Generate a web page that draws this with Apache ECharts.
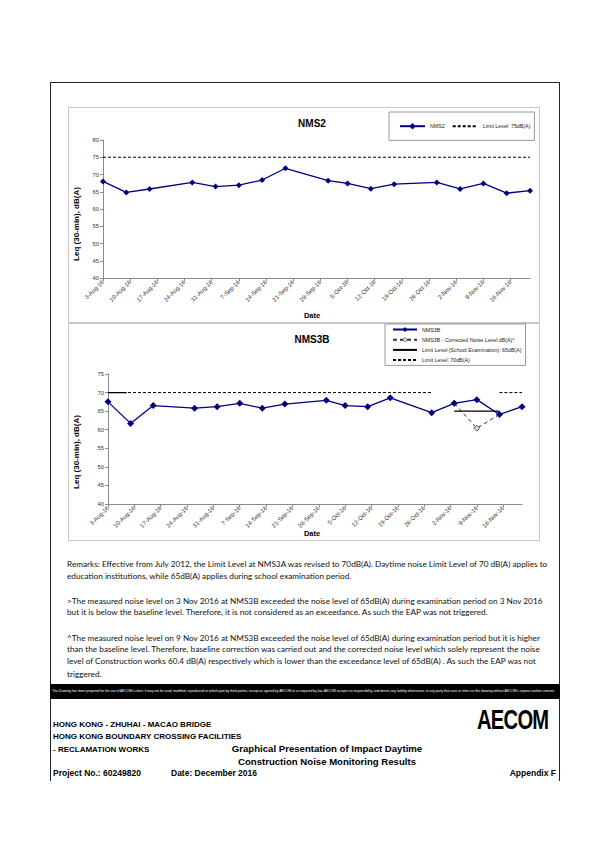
<!DOCTYPE html>
<html>
<head>
<meta charset="utf-8">
<script src="https://cdn.jsdelivr.net/npm/echarts@6/dist/echarts.min.js"></script>
<style>
  html, body { margin: 0; padding: 0; background: #fff; }
  body { width: 611px; height: 864px; position: relative; overflow: hidden; }
  .abs { position: absolute; }
  .t { position: absolute; white-space: nowrap; line-height: 1; }
  .rm { font-family: Lato, "Open Sans", sans-serif; font-size: 8px; color: #111; }
  .ft { font-family: "Liberation Sans", Arial, sans-serif; font-weight: bold; color: #000; }
</style>
</head>
<body>
<!-- page frame -->
<div class="abs" style="left:50px;top:82px;width:509px;height:0;border-top:1px solid #222;"></div>
<div class="abs" style="left:50px;top:82px;width:0;height:699px;border-left:1px solid #222;"></div>
<div class="abs" style="left:559px;top:82px;width:0;height:699px;border-left:1px solid #222;"></div>
<!-- chart boxes -->
<div class="abs" style="left:68px;top:107px;width:470px;height:214px;border:1px solid #c8c8c8;"></div>
<div class="abs" style="left:68px;top:323px;width:470px;height:216px;border:1px solid #c8c8c8;"></div>
<div id="chart" class="abs" style="left:68px;top:107px;width:472px;height:434px;"></div>

<!-- remarks -->
<div id="remarks"></div>

<!-- black band -->
<div class="abs" style="left:50px;top:684px;width:510px;height:15px;background:#000;"></div>
<div class="t" id="disc" style="left:52px;top:690px;font-family:'Liberation Sans',Arial,sans-serif;font-size:3px;color:#fff;">This Drawing has been prepared for the use of AECOM's client. It may not be used, modified, reproduced or relied upon by third parties, except as agreed by AECOM or as required by law. AECOM accepts no responsibility, and denies any liability whatsoever, to any party that uses or relies on this drawing without AECOM's express written consent.</div>

<!-- footer -->
<div class="t ft" style="left:477px;top:706px;font-size:28px;font-weight:900;letter-spacing:-1px;transform:scaleX(0.72);transform-origin:left top;">AECOM</div>
<div class="t ft" style="left:53px;top:721px;font-size:8px;">HONG KONG - ZHUHAI - MACAO BRIDGE</div>
<div class="t ft" style="left:53px;top:733px;font-size:8px;">HONG KONG BOUNDARY CROSSING FACILITIES</div>
<div class="t ft" style="left:53px;top:746px;font-size:8px;">- RECLAMATION WORKS</div>
<div class="t ft" style="left:53px;top:769px;font-size:8.5px;">Project No.: 60249820</div>
<div class="t ft" style="left:171px;top:769px;font-size:8.5px;">Date: December 2016</div>
<div class="t ft" style="right:55px;top:769px;font-size:8.5px;">Appendix F</div>
<div class="t ft" style="left:327px;top:744px;font-size:9.6px;transform:translateX(-50%);">Graphical Presentation of Impact Daytime</div>
<div class="t ft" style="left:327px;top:757px;font-size:9.6px;transform:translateX(-50%);">Construction Noise Monitoring Results</div>

<script>
// ---------------- DATA ----------------
const dates = ['3-Aug-16','9-Aug-16','15-Aug-16','26-Aug-16','1-Sep-16','7-Sep-16','13-Sep-16','19-Sep-16','30-Sep-16','5-Oct-16','11-Oct-16','17-Oct-16','28-Oct-16','3-Nov-16','9-Nov-16','15-Nov-16','21-Nov-16'];
const nms2Values  = [68.0, 64.8, 65.8, 67.7, 66.5, 66.9, 68.4, 71.8, 68.2, 67.4, 65.9, 67.2, 67.7, 65.8, 67.4, 64.6, 65.3];
const nms3bValues = [67.5, 61.7, 66.5, 65.8, 66.2, 67.1, 65.8, 66.9, 67.9, 66.5, 66.2, 68.6, 64.6, 67.1, 68.1, 64.1, 66.2];
const correctedDates  = ['3-Nov-16','9-Nov-16','15-Nov-16'];
const correctedValues = [67.1, 60.4, 64.1];
const limit75Dates  = ['3-Aug-16','21-Nov-16'];
const limit75Values = [75, 75];
const limit70Dates  = ['3-Aug-16','28-Oct-16', null, '15-Nov-16','21-Nov-16'];
const limit70Values = [70, 70, null, 70, 70];
const examDates  = ['3-Aug-16','8-Aug-16', null, '3-Nov-16','15-Nov-16'];
const examValues = [70, 70, null, 65, 65];
const xTickLabels = ['3-Aug-16','10-Aug-16','17-Aug-16','24-Aug-16','31-Aug-16','7-Sep-16','14-Sep-16','21-Sep-16','28-Sep-16','5-Oct-16','12-Oct-16','19-Oct-16','26-Oct-16','2-Nov-16','9-Nov-16','16-Nov-16'];
const xAxisEnd = '21-Nov-16';
const yTicksTop = [40, 80, 5];     // min, max, step
const yTicksBottom = [40, 75, 5];

const remarkLines = [
  'Remarks: Effective from July 2012, the Limit Level at NMS3A was revised to 70dB(A). Daytime noise Limit Level of 70 dB(A) applies to',
  'education institutions, while 65dB(A) applies during school examination period.',
  '>The measured noise level on 3 Nov 2016 at NMS3B exceeded the noise level of 65dB(A) during examination period on 3 Nov 2016',
  'but it is below the baseline level. Therefore, it is not considered as an exceedance. As such the EAP was not triggered.',
  '^The measured noise level on 9 Nov 2016 at NMS3B exceeded the noise level of 65dB(A) during examination period but it is higher',
  'than the baseline level. Therefore, baseline correction was carried out and the corrected noise level which solely represent the noise',
  'level of Construction works 60.4 dB(A) respectively which is lower than the exceedance level of 65dB(A) .  As such the EAP was not',
  'triggered.'
];
const remarkY = [565, 577, 602, 613, 639, 650, 662, 675];

// ---------------- helpers ----------------
const MONTHS = {Jan:0,Feb:1,Mar:2,Apr:3,May:4,Jun:5,Jul:6,Aug:7,Sep:8,Oct:9,Nov:10,Dec:11};
function dayOf(s) {
  const p = s.split('-');
  return (Date.UTC(2000 + (+p[2]), MONTHS[p[1]], +p[0]) - Date.UTC(2016, 7, 3)) / 86400000;
}
function pairs(ds, vs) {
  return ds.map((d, i) => d === null ? [NaN, '-'] : [dayOf(d), vs[i] === null ? '-' : vs[i]]);
}

// remarks
const rm = document.getElementById('remarks');
remarkLines.forEach((line, i) => {
  const el = document.createElement('div');
  el.className = 't rm';
  el.textContent = line;
  el.style.left = '67px';
  el.style.top = (remarkY[i] - 5) + 'px';
  rm.appendChild(el);
});
(function(){
  const first = rm.firstChild;
  const w = first.getBoundingClientRect().width;
  const fs = 8 * 481 / w;
  rm.querySelectorAll('.rm').forEach(e => { e.style.fontSize = fs + 'px'; });
})();
(function(){
  const d = document.getElementById('disc');
  const w = d.getBoundingClientRect().width;
  d.style.fontSize = (3 * 505 / w) + 'px';
})();

// ---------------- chart ----------------
const NAVY = '#000080';
const FONT = '"Liberation Sans", Arial, sans-serif';
const xEnd = dayOf(xAxisEnd);

function xAxis(gridIndex) {
  return {
    type: 'value', gridIndex, min: 0, max: xEnd, interval: 7,
    axisLine: { lineStyle: { color: '#8a8a8a', width: 1 } },
    axisTick: { show: true, length: 3, lineStyle: { color: '#8a8a8a' } },
    splitLine: { show: false },
    axisLabel: {
      rotate: 45, fontSize: 6, color: '#333', fontFamily: FONT, margin: 3,
      showMaxLabel: false,
      formatter: v => (v % 7 === 0 && xTickLabels[v / 7] !== undefined) ? xTickLabels[v / 7] : ''
    }
  };
}
function yAxis(gridIndex, t) {
  return {
    type: 'value', gridIndex, min: t[0], max: t[1], interval: t[2],
    axisLine: { show: true, lineStyle: { color: '#8a8a8a', width: 1 } },
    axisTick: { show: true, length: 3, lineStyle: { color: '#8a8a8a' } },
    splitLine: { show: false },
    axisLabel: { fontSize: 5.8, color: '#333', fontFamily: FONT, margin: 4 }
  };
}
const legendText = { fontSize: 5.3, color: '#222', fontFamily: FONT };
const noMarker = { opacity: 0, color: 'rgba(0,0,0,0)' };

const option = {
  animation: false,
  grid: [
    { left: 35, top: 33, width: 427, height: 138 },
    { left: 40, top: 267, width: 414, height: 130 }
  ],
  xAxis: [xAxis(0), xAxis(1)],
  yAxis: [yAxis(0, yTicksTop), yAxis(1, yTicksBottom)],
  legend: [
    {
      data: ['NMS2', { name: 'Limit Level: 75dB(A)', itemStyle: noMarker }],
      orient: 'horizontal', left: 321, top: 5,
      padding: [11, 4, 11, 10], itemGap: 7, itemWidth: 25, itemHeight: 8,
      borderColor: '#9a9a9a', borderWidth: 1, backgroundColor: '#fff',
      textStyle: legendText
    },
    {
      data: ['NMS3B',
             { name: 'NMS3B - Corrected Noise Level dB(A)^', itemStyle: { borderWidth: 0.6 } },
             { name: 'Limit Level (School Examination): 65dB(A)', itemStyle: noMarker },
             { name: 'Limit Level: 70dB(A)', itemStyle: noMarker }],
      orient: 'vertical', left: 317, top: 217,
      padding: [3, 4, 3, 7], itemGap: 5, itemWidth: 24, itemHeight: 6,
      borderColor: '#9a9a9a', borderWidth: 1, backgroundColor: '#fff',
      textStyle: legendText
    }
  ],
  graphic: [
    { type: 'text', x: 244, y: 16, style: { text: 'NMS2', font: 'bold 10px ' + FONT, fill: '#000', align: 'center', verticalAlign: 'middle' } },
    { type: 'text', x: 244, y: 232, style: { text: 'NMS3B', font: 'bold 10px ' + FONT, fill: '#000', align: 'center', verticalAlign: 'middle' } },
    { type: 'text', x: 8, y: 117, rotation: Math.PI / 2, style: { text: 'Leq (30-min), dB(A)', font: 'bold 8px ' + FONT, fill: '#000', align: 'center', verticalAlign: 'middle' } },
    { type: 'text', x: 8, y: 345, rotation: Math.PI / 2, style: { text: 'Leq (30-min), dB(A)', font: 'bold 8px ' + FONT, fill: '#000', align: 'center', verticalAlign: 'middle' } },
    { type: 'text', x: 244, y: 208, style: { text: 'Date', font: 'bold 7.5px ' + FONT, fill: '#000', align: 'center', verticalAlign: 'middle' } },
    { type: 'text', x: 244, y: 426, style: { text: 'Date', font: 'bold 7.5px ' + FONT, fill: '#000', align: 'center', verticalAlign: 'middle' } }
  ],
  series: [
    {
      name: 'NMS2', type: 'line', xAxisIndex: 0, yAxisIndex: 0,
      data: pairs(dates, nms2Values),
      symbol: 'diamond', symbolSize: 6, color: NAVY,
      lineStyle: { color: NAVY, width: 1.3 }, itemStyle: { color: NAVY }
    },
    {
      name: 'Limit Level: 75dB(A)', type: 'line', xAxisIndex: 0, yAxisIndex: 0,
      data: pairs(limit75Dates, limit75Values),
      symbol: 'none', color: '#000',
      lineStyle: { color: '#000', width: 1, type: [3, 2] }
    },
    {
      name: 'NMS3B', type: 'line', xAxisIndex: 1, yAxisIndex: 1,
      data: pairs(dates, nms3bValues),
      symbol: 'diamond', symbolSize: 7, color: NAVY, z: 4,
      lineStyle: { color: NAVY, width: 1.3 }, itemStyle: { color: NAVY }
    },
    {
      name: 'NMS3B - Corrected Noise Level dB(A)^', type: 'line', xAxisIndex: 1, yAxisIndex: 1,
      data: pairs(correctedDates, correctedValues),
      symbol: 'diamond', symbolSize: 6, color: '#333',
      lineStyle: { color: '#333', width: 1, type: [4, 3] },
      itemStyle: { color: '#c9d8ea', borderColor: '#445', borderWidth: 0.8 }
    },
    {
      name: 'Limit Level (School Examination): 65dB(A)', type: 'line', xAxisIndex: 1, yAxisIndex: 1,
      data: pairs(examDates, examValues), connectNulls: false,
      symbol: 'none', color: '#000',
      lineStyle: { color: '#000', width: 1.2 }
    },
    {
      name: 'Limit Level: 70dB(A)', type: 'line', xAxisIndex: 1, yAxisIndex: 1,
      data: pairs(limit70Dates, limit70Values), connectNulls: false,
      symbol: 'none', color: '#000',
      lineStyle: { color: '#000', width: 1, type: [3, 2] }
    }
  ]
};

const chart = echarts.init(document.getElementById('chart'), null, { renderer: 'svg' });
chart.setOption(option);
</script>
</body>
</html>
